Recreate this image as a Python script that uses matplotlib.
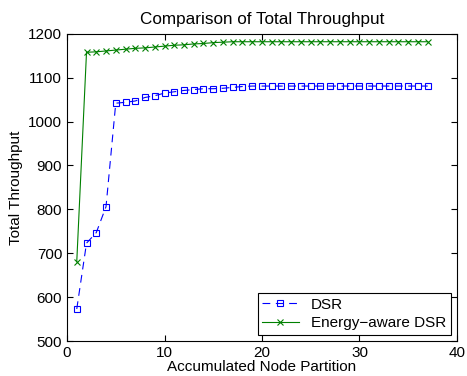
import numpy as np
import matplotlib
matplotlib.use("Agg")
import matplotlib.pyplot as plt

plt.rcParams['font.family'] = ['Liberation Sans', 'DejaVu Sans']

partition = list(range(1, 38))
dsr = [573, 723, 747, 806, 1042, 1044, 1047, 1055, 1059, 1065, 1068, 1071,
       1073, 1075, 1075, 1076, 1078, 1080, 1081, 1081, 1081, 1081, 1081, 1081,
       1081, 1081, 1081, 1081, 1081, 1081, 1081, 1081, 1081, 1081, 1081, 1081, 1081]
energy = [681, 1158, 1159, 1161, 1163, 1165, 1167, 1168, 1170, 1172, 1174, 1175,
          1177, 1178, 1180, 1181, 1182, 1182, 1182, 1182, 1182, 1182, 1182, 1182,
          1182, 1182, 1182, 1182, 1182, 1182, 1182, 1182, 1182, 1182, 1182, 1182, 1182]

fig = plt.figure(figsize=(4.67, 3.76), dpi=100)
ax = fig.add_axes([0.1435, 0.093, 0.835, 0.817])

ax.plot(partition, dsr, color="blue", linestyle=(0, (7, 5)), marker="s", markersize=5,
        markerfacecolor="none", markeredgewidth=0.8, linewidth=0.8, label="DSR")
ax.plot(partition, energy, color="green", linestyle="-", marker="x", markersize=4,
        markeredgewidth=0.8, linewidth=0.8, label="Energy\u2212aware DSR")

ax.set_xlim(0, 40)
ax.set_ylim(500, 1200)
ax.set_xticks([0, 10, 20, 30, 40])
ax.set_yticks(range(500, 1201, 100))
ax.tick_params(direction="in", top=True, right=True, labelsize=11, length=4)
ax.set_xlabel("Accumulated Node Partition", fontsize=11, labelpad=0)
ax.set_ylabel("Total Throughput", fontsize=11)
ax.set_title("Comparison of Total Throughput", fontsize=12.3, pad=7)
leg = ax.legend(loc="lower right", fontsize=11, fancybox=False, framealpha=1,
                edgecolor="black", borderaxespad=0.4, handlelength=2.4,
                borderpad=0.3, labelspacing=0.3, numpoints=1)
leg.get_frame().set_linewidth(0.8)

fig.savefig("out.png", dpi=100)
